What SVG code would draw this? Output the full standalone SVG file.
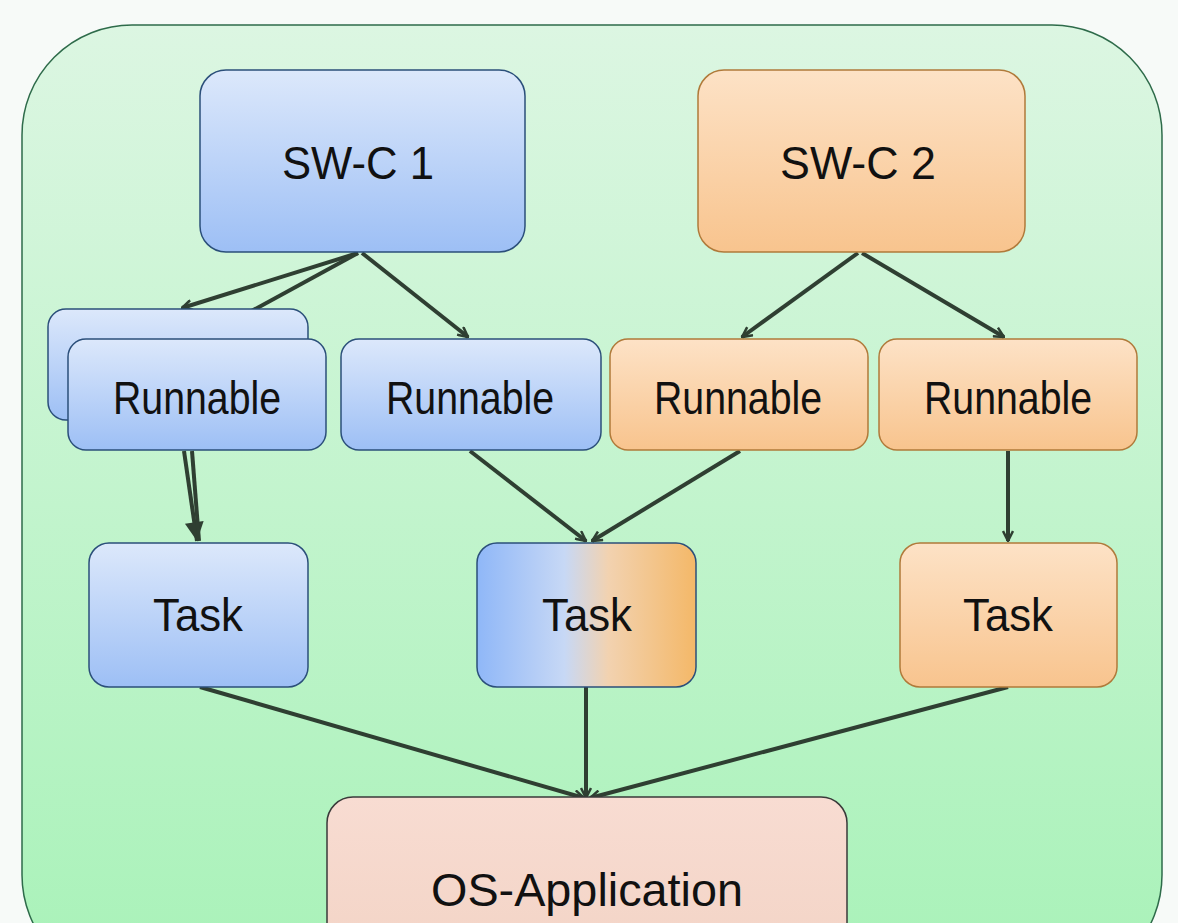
<svg xmlns="http://www.w3.org/2000/svg" width="1178" height="923" viewBox="0 0 1178 923">
<defs>
<linearGradient id="bg" x1="0" y1="0" x2="0" y2="1"><stop offset="0" stop-color="#dcf6e2"/><stop offset="1" stop-color="#a8f2b8"/></linearGradient>
<linearGradient id="blue" x1="0" y1="0" x2="0" y2="1"><stop offset="0" stop-color="#dce8fb"/><stop offset="1" stop-color="#9dbff5"/></linearGradient>
<linearGradient id="orange" x1="0" y1="0" x2="0" y2="1"><stop offset="0" stop-color="#fde2c6"/><stop offset="1" stop-color="#f8c48e"/></linearGradient>
<linearGradient id="mix" x1="0" y1="0" x2="1" y2="0"><stop offset="0" stop-color="#8fb7f8"/><stop offset="0.4" stop-color="#c7d8f5"/><stop offset="0.6" stop-color="#f2d2b0"/><stop offset="1" stop-color="#f4b868"/></linearGradient>
<linearGradient id="pink" x1="0" y1="0" x2="0" y2="1"><stop offset="0" stop-color="#f8dcd2"/><stop offset="1" stop-color="#f3d4c6"/></linearGradient>
<marker id="ah" viewBox="0 0 12 12" refX="11" refY="6" markerWidth="12" markerHeight="12" markerUnits="userSpaceOnUse" orient="auto"><path d="M1,1 L11,6 L1,11" fill="none" stroke="#2f3f32" stroke-width="2.5"/></marker>
<marker id="ahf" viewBox="0 0 14 14" refX="13" refY="7" markerWidth="22" markerHeight="22" markerUnits="userSpaceOnUse" orient="auto"><path d="M1,1 L13,7 L1,13 Z" fill="#2f3f32"/></marker>
</defs>
<style>
.b{fill:url(#blue);stroke:#2b4f7a;stroke-width:1.5}
.o{fill:url(#orange);stroke:#b07a3a;stroke-width:1.5}
text{font-family:"Liberation Sans","DejaVu Sans",sans-serif;fill:#111;text-anchor:middle;dominant-baseline:central}
.c path{fill:none;stroke:#2f3f32;stroke-width:4}
</style>
<rect x="0" y="0" width="1178" height="923" fill="#f7faf8"/>
<rect id="container" x="22" y="25" width="1140" height="960" rx="110" fill="url(#bg)" stroke="#2e6b4a" stroke-width="1.5"/>
<g class="c">
<path d="M358,253 L182,308" marker-end="url(#ah)"/>
<path d="M358,253 L202,338" marker-end="url(#ah)"/>
<path d="M362,253 L468,337" marker-end="url(#ah)"/>
<path d="M858,253 L742,337" marker-end="url(#ah)"/>
<path d="M862,253 L1004,337" marker-end="url(#ah)"/>
<path d="M184,451 L197,541" marker-end="url(#ahf)"/>
<path d="M192,451 L199,541"/>
<path d="M470,451 L586,541" marker-end="url(#ah)"/>
<path d="M740,451 L592,541" marker-end="url(#ah)"/>
<path d="M1008,451 L1008,541" marker-end="url(#ah)"/>
<path d="M200,687 L584,798" marker-end="url(#ah)"/>
<path d="M586,687 L586,798" marker-end="url(#ah)"/>
<path d="M1008,687 L590,798" marker-end="url(#ah)"/>
</g>
<g id="swc1"><rect class="b" x="200" y="70" width="325" height="182" rx="26"/><text x="358" y="163" font-size="46" textLength="152" lengthAdjust="spacingAndGlyphs">SW-C 1</text></g>
<g id="swc2"><rect class="o" x="698" y="70" width="327" height="182" rx="26"/><text x="858" y="163" font-size="46" textLength="156" lengthAdjust="spacingAndGlyphs">SW-C 2</text></g>
<g id="runnable0"><rect class="b" x="48" y="309" width="260" height="111" rx="18"/></g>
<g id="runnable1"><rect class="b" x="68" y="339" width="258" height="111" rx="18"/><text x="197" y="398" font-size="46" textLength="168" lengthAdjust="spacingAndGlyphs">Runnable</text></g>
<g id="runnable2"><rect class="b" x="341" y="339" width="260" height="111" rx="18"/><text x="470" y="398" font-size="46" textLength="168" lengthAdjust="spacingAndGlyphs">Runnable</text></g>
<g id="runnable3"><rect class="o" x="610" y="339" width="258" height="111" rx="18"/><text x="738" y="398" font-size="46" textLength="168" lengthAdjust="spacingAndGlyphs">Runnable</text></g>
<g id="runnable4"><rect class="o" x="879" y="339" width="258" height="111" rx="18"/><text x="1008" y="398" font-size="46" textLength="168" lengthAdjust="spacingAndGlyphs">Runnable</text></g>
<g id="task1"><rect class="b" x="89" y="543" width="219" height="144" rx="20"/><text x="198" y="615" font-size="46" textLength="90" lengthAdjust="spacingAndGlyphs">Task</text></g>
<g id="task2"><rect x="477" y="543" width="219" height="144" rx="20" fill="url(#mix)" stroke="#2b4f7a" stroke-width="1.5"/><text x="587" y="615" font-size="46" textLength="90" lengthAdjust="spacingAndGlyphs">Task</text></g>
<g id="task3"><rect class="o" x="900" y="543" width="217" height="144" rx="20"/><text x="1008" y="615" font-size="46" textLength="90" lengthAdjust="spacingAndGlyphs">Task</text></g>
<g id="osapp"><rect x="327" y="797" width="520" height="160" rx="26" fill="url(#pink)" stroke="#3a3a3a" stroke-width="1.5"/><text x="587" y="890" font-size="46" textLength="312" lengthAdjust="spacingAndGlyphs">OS-Application</text></g>
</svg>
